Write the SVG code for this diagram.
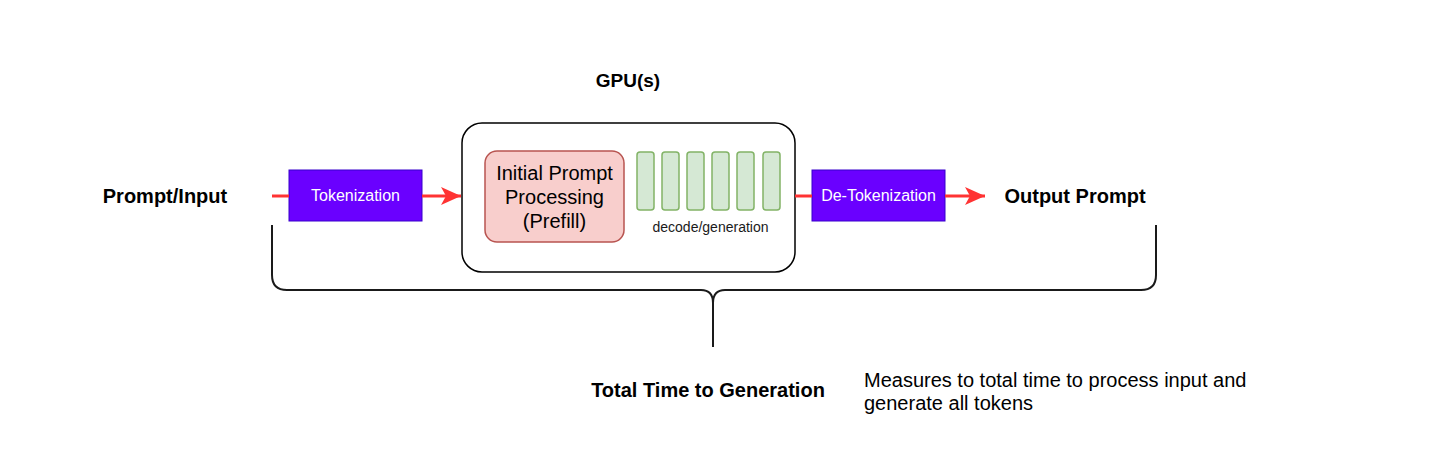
<svg xmlns="http://www.w3.org/2000/svg" width="1433" height="453" viewBox="0 0 1433 453">
<defs>
<style>
text{font-family:"Liberation Sans",Arial,sans-serif;}
.bold{font-weight:bold;font-size:20px;fill:#000;}
.tok{fill:#6a00ff;stroke:#3700cc;stroke-width:1;}
.tokt{fill:#fff;font-size:16px;}
.bar{fill:#d5e8d4;stroke:#82b366;stroke-width:1.5;}
.red{stroke:#ff3333;stroke-width:3;fill:none;}
.brace{stroke:#1a1a1a;stroke-width:2;fill:none;}
</style>
<marker id="arr" markerUnits="userSpaceOnUse" markerWidth="22" markerHeight="20" refX="20" refY="10" orient="auto">
<path d="M0,1 L20,10 L0,19 L5,10 Z" fill="#ff3333"/>
</marker>
</defs>
<rect width="1433" height="453" fill="#fff"/>

<g id="gpu-label"><text class="bold" x="628" y="87" text-anchor="middle" style="font-size:19px">GPU(s)</text></g>

<g id="gpu">
<rect x="462" y="123" width="333" height="149" rx="20" ry="20" fill="#fff" stroke="#000" stroke-width="1.5"/>
</g>

<g id="prefill">
<rect x="485" y="151" width="139" height="91" rx="12" ry="12" fill="#f8cecc" stroke="#b85450" stroke-width="1.5"/>
<text x="554.5" y="179.5" text-anchor="middle" font-size="20" fill="#000">Initial Prompt</text>
<text x="554.5" y="203.5" text-anchor="middle" font-size="20" fill="#000">Processing</text>
<text x="554.5" y="227.5" text-anchor="middle" font-size="20" fill="#000">(Prefill)</text>
</g>

<g id="decode">
<rect class="bar" x="637" y="152" width="17" height="58" rx="3"/>
<rect class="bar" x="662" y="152" width="17" height="58" rx="3"/>
<rect class="bar" x="687" y="152" width="17" height="58" rx="3"/>
<rect class="bar" x="712" y="152" width="17" height="58" rx="3"/>
<rect class="bar" x="737" y="152" width="17" height="58" rx="3"/>
<rect class="bar" x="763" y="152" width="17" height="58" rx="3"/>
<text x="710.5" y="232" text-anchor="middle" font-size="14" fill="#1a1a1a">decode/generation</text>
</g>

<g id="prompt-input"><text class="bold" x="165" y="203" text-anchor="middle">Prompt/Input</text></g>

<g id="tokenization">
<rect class="tok" x="289" y="170" width="133" height="51"/>
<text class="tokt" x="355.5" y="201" text-anchor="middle">Tokenization</text>
</g>

<g id="detokenization">
<rect class="tok" x="812" y="170" width="133" height="51"/>
<text class="tokt" x="878.5" y="201" text-anchor="middle">De-Tokenization</text>
</g>

<g id="output-prompt"><text class="bold" x="1075" y="203" text-anchor="middle">Output Prompt</text></g>

<g id="connectors">
<line class="red" x1="272" y1="196" x2="289" y2="196"/>
<line class="red" x1="422" y1="196" x2="461" y2="196" marker-end="url(#arr)"/>
<line class="red" x1="795" y1="196" x2="812" y2="196"/>
<line class="red" x1="945" y1="196" x2="985" y2="196" marker-end="url(#arr)"/>
</g>

<g id="brace">
<path class="brace" d="M272,225 V275 Q272,290 287,290 H701 Q713,290 713,303 Q713,290 725,290 H1141 Q1156,290 1156,275 V225"/>
<path class="brace" d="M713,303 V347"/>
</g>

<g id="total-time"><text class="bold" x="708" y="397" text-anchor="middle">Total Time to Generation</text></g>

<g id="description">
<text x="864" y="387" font-size="20" fill="#000">Measures to total time to process input and</text>
<text x="864" y="410" font-size="20" fill="#000">generate all tokens</text>
</g>
</svg>
